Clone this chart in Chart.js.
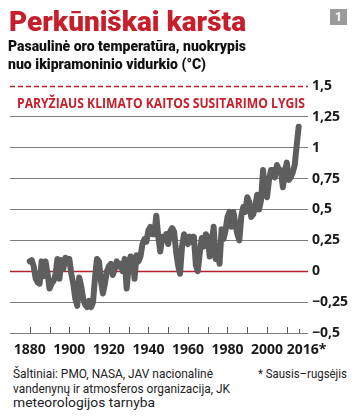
<!DOCTYPE html>
<html><head><meta charset="utf-8">
<script src="https://cdn.jsdelivr.net/npm/chart.js@4.4.1/dist/chart.umd.min.js"></script>
<style>
html,body{margin:0;padding:0;background:#fff;}
body{width:357px;height:420px;position:relative;overflow:hidden;}
.t{position:absolute;white-space:nowrap;transform-origin:0 0;line-height:1;}
#title{left:9px;top:5px;font:900 28px 'Roboto','DejaVu Sans',sans-serif;color:#c61f2b;}
.sub{left:8px;font:900 15.5px 'Roboto','DejaVu Sans',sans-serif;color:#111;}
#ann{left:17px;top:92.5px;font:700 14px 'Open Sans','Roboto',sans-serif;color:#c61f2b;}
.foot{font:400 13.3px 'Roboto','Open Sans',sans-serif;color:#222;}
#badge{position:absolute;left:330px;top:9px;width:17px;height:16px;background:#9b9b9b;color:#fff;font:700 12px 'Roboto',sans-serif;text-align:center;line-height:16px;}
#wrap{position:absolute;left:0;top:0;width:357px;height:359px;}
</style></head>
<body>
<div id="wrap"><canvas id="c" width="357" height="359"></canvas></div>
<div class="t" id="title" data-w="237">Perkūniškai karšta</div>
<div class="t sub" style="top:37px" data-w="238">Pasaulinė oro temperatūra, nuokrypis</div>
<div class="t sub" style="top:55px" data-w="198">nuo ikipramoninio vidurkio (°C)</div>
<div id="badge">1</div>
<div class="t" id="ann" data-w="288">PARYŽIAUS KLIMATO KAITOS SUSITARIMO LYGIS</div>
<div class="t foot" style="left:13px;top:366px" data-w="200">Šaltiniai: PMO, NASA, JAV nacionalinė</div>
<div class="t foot" style="left:13px;top:380.5px" data-w="217">vandenynų ir atmosferos organizacija, JK</div>
<div class="t foot" style="left:13px;top:395px" data-w="142">meteorologijos tarnyba</div>
<div class="t foot" style="left:258px;top:366px" data-w="89">* Sausis–rugsėjis</div>
<script>
// Years (categories)
const years = [1880,1881,1882,1883,1884,1885,1886,1887,1888,1889,
1890,1891,1892,1893,1894,1895,1896,1897,1898,1899,
1900,1901,1902,1903,1904,1905,1906,1907,1908,1909,
1910,1911,1912,1913,1914,1915,1916,1917,1918,1919,
1920,1921,1922,1923,1924,1925,1926,1927,1928,1929,
1930,1931,1932,1933,1934,1935,1936,1937,1938,1939,
1940,1941,1942,1943,1944,1945,1946,1947,1948,1949,
1950,1951,1952,1953,1954,1955,1956,1957,1958,1959,
1960,1961,1962,1963,1964,1965,1966,1967,1968,1969,
1970,1971,1972,1973,1974,1975,1976,1977,1978,1979,
1980,1981,1982,1983,1984,1985,1986,1987,1988,1989,
1990,1991,1992,1993,1994,1995,1996,1997,1998,1999,
2000,2001,2002,2003,2004,2005,2006,2007,2008,2009,
2010,2011,2012,2013,2014,2015,2016];
// Temperature anomaly vs pre-industrial average (°C)
const anomaly = [0.08,0.09,0.04,-0.06,-0.09,-0.10,0.08,-0.04,0.08,-0.02,
-0.14,-0.10,-0.08,-0.03,0.10,-0.06,0.09,0.02,0.11,0.07,
0.10,-0.02,-0.10,-0.22,-0.28,-0.05,-0.12,-0.22,-0.27,-0.29,
-0.24,-0.29,-0.25,-0.05,0.10,0.08,-0.08,-0.18,-0.10,0.00,
0.04,0.06,-0.03,0.02,0.08,0.04,0.06,0.00,0.10,-0.14,
0.04,0.12,0.10,-0.06,0.13,0.08,0.12,0.22,0.26,0.24,
0.33,0.36,0.30,0.30,0.45,0.28,0.16,0.28,0.25,0.30,
0.22,0.32,0.35,0.32,0.16,0.05,-0.02,0.20,0.30,0.27,
0.22,0.28,0.24,0.28,0.05,0.00,0.15,0.27,0.20,0.30,
0.28,0.12,0.20,0.36,0.10,0.18,0.06,0.34,0.26,0.33,
0.44,0.48,0.36,0.48,0.38,0.30,0.25,0.45,0.52,0.48,
0.60,0.56,0.44,0.46,0.52,0.62,0.50,0.58,0.82,0.62,
0.60,0.74,0.82,0.82,0.76,0.86,0.82,0.82,0.68,0.80,
0.88,0.74,0.76,0.80,0.86,1.02,1.17];
// Axis ticks
const yTickValues = [-0.5,-0.25,0,0.25,0.5,0.75,1,1.25,1.5];
const xTickValues = [1880,1890,1900,1910,1920,1930,1940,1950,1960,1970,1980,1990,2000,2010,2016];
const xTickLabels = ['1880','','1900','','1920','','1940','','1960','','1980','','2000','','\u2007\u20072016*'];
const parisLevel = 1.5;
const baseLevel = 0;

const RED = '#b5202c';
const refPlugin = {
  id: 'refs',
  beforeDatasetsDraw(chart) {
    const {ctx, chartArea: a, scales: {x, y}} = chart;
    ctx.save();
    let py = Math.round(y.getPixelForValue(baseLevel)) + 0.5;
    ctx.strokeStyle = RED; ctx.lineWidth = 1.6;
    ctx.beginPath(); ctx.moveTo(a.left, py); ctx.lineTo(a.right + 3, py); ctx.stroke();
    py = Math.round(y.getPixelForValue(parisLevel)) + 0.5;
    ctx.setLineDash([5, 3]); ctx.lineWidth = 1.4;
    ctx.beginPath(); ctx.moveTo(a.left, py); ctx.lineTo(a.right + 3, py); ctx.stroke();
    ctx.setLineDash([]);
    ctx.strokeStyle = '#555'; ctx.lineWidth = 1;
    const by = Math.round(y.getPixelForValue(-0.5));
    xTickValues.forEach(v => {
      const px = Math.round(x.getPixelForValue(v)) + 0.5;
      const len = v === 2016 ? 4 : 6;
      ctx.beginPath(); ctx.moveTo(px, by); ctx.lineTo(px, by - len); ctx.stroke();
    });
    ctx.restore();
  }
};

const pts = years.map((yr, i) => ({x: yr, y: anomaly[i]}));
const fmt = v => (v < 0 ? '\u2212' : '') + String(Math.abs(v)).replace('.', ',');
const tickFont = {family: "'Open Sans','Roboto',sans-serif", size: 14, weight: 'bold'};

new Chart(document.getElementById('c'), {
  type: 'line',
  data: {
    datasets: [
      {data: pts, borderColor: '#5e5e5e', borderWidth: 6, pointRadius: 0, borderJoinStyle: 'round', borderCapStyle: 'round', tension: 0},
      {data: pts, borderColor: '#8f8f8f', borderWidth: 3.8, pointRadius: 0, borderJoinStyle: 'round', borderCapStyle: 'round', tension: 0}
    ]
  },
  options: {
    responsive: false,
    devicePixelRatio: 1,
    animation: false,
    events: [],
    layout: {padding: {left: 10, top: 86, right: 0, bottom: 0}},
    plugins: {legend: {display: false}, tooltip: {enabled: false}},
    scales: {
      x: {
        type: 'linear', min: 1870, max: 2019.2,
        afterBuildTicks: s => { s.ticks = xTickValues.map(v => ({value: v})); },
        afterFit: s => { s.height = 26; },
        grid: {display: false, drawTicks: false},
        border: {display: false},
        ticks: {autoSkip: false, maxRotation: 0, padding: 9, color: '#1a1a1a', font: tickFont,
          callback: (v) => { const i = xTickValues.indexOf(v); return i >= 0 ? xTickLabels[i] : ''; }}
      },
      y: {
        position: 'right', min: -0.5, max: 1.5,
        afterBuildTicks: s => { s.ticks = yTickValues.map(v => ({value: v})); },
        afterFit: s => { s.width = 52; },
        border: {display: false},
        grid: {
          color: c => (c.tick && (c.tick.value === baseLevel || c.tick.value === parisLevel)) ? 'rgba(0,0,0,0)' : '#7d7d7d',
          lineWidth: 1, tickLength: 3
        },
        ticks: {padding: 4, color: '#1a1a1a', font: tickFont, callback: v => fmt(v)}
      }
    }
  },
  plugins: [refPlugin]
});

function fit() {
  document.querySelectorAll('.t[data-w]').forEach(el => {
    el.style.transform = 'none';
    const w = el.getBoundingClientRect().width;
    const target = parseFloat(el.dataset.w);
    if (w > 0) el.style.transform = 'scaleX(' + (target / w) + ')';
  });
}
fit();
if (document.fonts && document.fonts.ready) document.fonts.ready.then(fit);
</script>
</body></html>
